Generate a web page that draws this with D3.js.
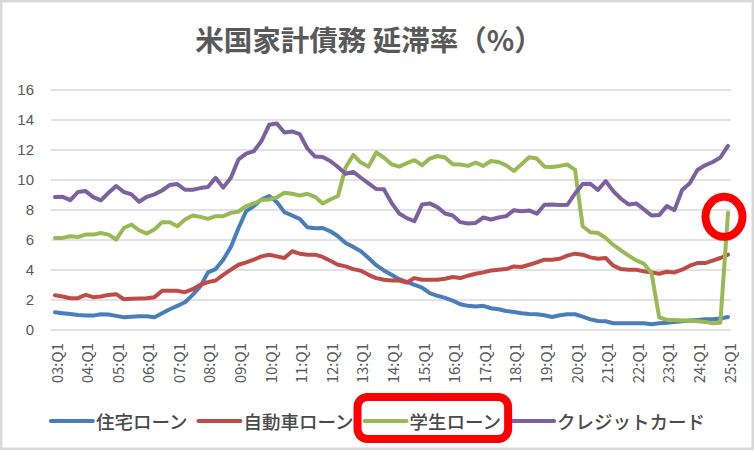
<!DOCTYPE html>
<html>
<head>
<meta charset="utf-8">
<script src="https://cdn.jsdelivr.net/npm/d3@7"></script>
<style>
  body { margin: 0; background: #fff; }
  svg { display: block; font-family: "Noto Sans CJK JP", "Noto Sans", sans-serif; }
  .grid line { stroke: #d9d9d9; stroke-width: 1.5; }
  .tick-label { fill: #595959; font-size: 15px; }
  .legend-label { fill: #4a4a4a; font-size: 18.5px; font-weight: 500; }
</style>
</head>
<body>
<svg id="chart"></svg>
<script>
// tick labels shown on the x axis (every 4th quarter)
const yearLabels = ["03:Q1","04:Q1","05:Q1","06:Q1","07:Q1","08:Q1","09:Q1","10:Q1","11:Q1","12:Q1","13:Q1",
    "14:Q1","15:Q1","16:Q1","17:Q1","18:Q1","19:Q1","20:Q1","21:Q1","22:Q1","23:Q1","24:Q1","25:Q1"];
const yTicks = [0, 2, 4, 6, 8, 10, 12, 14, 16];

const seriesNames = ["住宅ローン", "自動車ローン", "学生ローン", "クレジットカード"];
const seriesColors = ["#4a7ebb", "#be4b48", "#98b954", "#7d60a0"];

// 03:Q1 .. 25:Q1, % of balance 90+ days delinquent
const mortgage = [1.18,1.12,1.07,1.0,0.96,0.96,1.05,1.03,0.94,0.85,0.89,0.92,0.92,0.85,1.12,1.38,1.61,1.85,2.34,2.9,
    3.84,4.06,4.69,5.54,6.8,7.92,8.26,8.7,8.93,8.53,7.86,7.63,7.41,6.85,6.79,6.8,6.58,6.25,5.8,5.54,
    5.25,4.8,4.32,3.97,3.68,3.39,3.21,3.01,2.83,2.46,2.28,2.14,1.96,1.72,1.61,1.56,1.61,1.45,1.38,1.27,
    1.2,1.12,1.07,1.05,0.98,0.87,0.98,1.05,1.05,0.89,0.71,0.6,0.58,0.45,0.45,0.45,0.45,0.45,0.38,0.45,
    0.49,0.54,0.58,0.63,0.67,0.71,0.71,0.76,0.87];
const auto = [2.32,2.23,2.12,2.12,2.34,2.19,2.23,2.34,2.39,2.05,2.08,2.1,2.12,2.19,2.61,2.61,2.61,2.52,2.72,3.01,
    3.19,3.3,3.68,4.02,4.35,4.51,4.69,4.91,5.02,4.91,4.8,5.25,5.09,5.02,5.02,4.87,4.62,4.35,4.24,4.06,
    3.95,3.68,3.46,3.35,3.3,3.3,3.17,3.46,3.35,3.35,3.35,3.42,3.53,3.46,3.62,3.75,3.84,3.97,4.02,4.06,
    4.24,4.2,4.35,4.51,4.69,4.69,4.75,4.96,5.09,5.02,4.84,4.75,4.8,4.29,4.06,4.02,4.02,3.91,3.84,3.75,
    3.88,3.84,4.02,4.29,4.46,4.46,4.62,4.8,5.02];
const student = [6.14,6.14,6.25,6.2,6.36,6.36,6.47,6.36,6.03,6.8,7.03,6.65,6.43,6.7,7.19,7.19,6.92,7.37,7.63,7.54,
    7.41,7.59,7.59,7.81,7.9,8.26,8.44,8.66,8.7,8.84,9.15,9.08,8.97,9.08,8.88,8.44,8.7,8.93,10.83,11.67,
    11.16,10.89,11.83,11.5,11.05,10.89,11.12,11.32,10.98,11.43,11.6,11.5,11.05,11.03,10.94,11.16,10.94,11.27,11.2,10.98,
    10.6,11.05,11.52,11.43,10.89,10.87,10.94,11.03,10.67,6.92,6.52,6.47,6.14,5.67,5.31,4.96,4.64,4.42,3.79,0.85,
    0.67,0.67,0.63,0.63,0.58,0.54,0.45,0.49,7.81];
const credit = [8.86,8.88,8.66,9.2,9.26,8.86,8.64,9.15,9.6,9.2,9.04,8.55,8.88,9.04,9.3,9.66,9.73,9.35,9.35,9.46,
    9.53,10.15,9.49,10.15,11.38,11.76,11.92,12.6,13.68,13.77,13.17,13.24,13.06,12.1,11.56,11.54,11.27,10.87,10.42,10.54,
    10.15,9.78,9.4,9.38,8.48,7.77,7.46,7.25,8.37,8.44,8.19,7.77,7.63,7.19,7.1,7.14,7.5,7.37,7.5,7.59,
    7.99,7.92,7.97,7.75,8.35,8.37,8.33,8.35,9.1,9.73,9.75,9.33,9.93,9.26,8.75,8.37,8.44,8.04,7.63,7.66,
    8.26,7.99,9.33,9.78,10.67,10.98,11.2,11.5,12.28];

const width = 755, height = 452;
const plot = { left: 51, right: 731, top: 90, bottom: 330 };

// one category per quarter
const quarters = [];
yearLabels.forEach((lab, k) => {
    const yy = lab.slice(0, 2);
    for (let q = 1; q <= 4; q++) {
        if (k === yearLabels.length - 1 && q > 1) break;
        quarters.push(`${yy}:Q${q}`);
    }
});

const allSeries = [mortgage, auto, student, credit].map((vals, i) => ({
    name: seriesNames[i], color: seriesColors[i],
    values: vals.map((v, j) => ({ q: quarters[j], v: v }))
}));

const svg = d3.select('#chart').attr('width', width).attr('height', height);

svg.append('rect')
    .attr('x', 1.25).attr('y', 1.25)
    .attr('width', width - 3.5).attr('height', height - 4.5)
    .attr('fill', '#fff').attr('stroke', '#d9d9d9').attr('stroke-width', 2.5);

svg.append('text')
    .attr('x', 369).attr('y', 51)
    .attr('text-anchor', 'middle')
    .attr('fill', '#595959')
    .attr('font-size', 28.5)
    .attr('font-weight', 'bold')
    .text('米国家計債務 延滞率（%）');

const xScale = d3.scalePoint().domain(quarters).range([55, 728]);
const yScale = d3.scaleLinear().domain([0, 16]).range([plot.bottom, plot.top]);

// horizontal gridlines
svg.append('g').attr('class', 'grid')
    .selectAll('line').data(yTicks).join('line')
    .attr('x1', plot.left).attr('x2', plot.right)
    .attr('y1', d => yScale(d)).attr('y2', d => yScale(d));

// y tick labels
const yAxis = d3.axisLeft(yScale).tickValues(yTicks).tickSize(0).tickPadding(0);
const yAxisG = svg.append('g').attr('transform', 'translate(34,0)').call(yAxis);
yAxisG.select('.domain').remove();
yAxisG.selectAll('text').attr('class', 'tick-label').attr('fill', null).style('font-family', null).attr('font-size', null);

// x tick labels, rotated
const xAxisG = svg.append('g');
xAxisG.selectAll('text').data(yearLabels).join('text')
    .attr('class', 'tick-label')
    .attr('transform', d => `translate(${xScale(d) + 1},343) rotate(-90)`)
    .attr('text-anchor', 'end')
    .attr('dominant-baseline', 'central')
    .text(d => d);

const line = d3.line().x(d => xScale(d.q)).y(d => yScale(d.v));

svg.append('g').selectAll('path').data(allSeries).join('path')
    .attr('fill', 'none')
    .attr('stroke', d => d.color)
    .attr('stroke-width', 4)
    .attr('stroke-linejoin', 'round')
    .attr('stroke-linecap', 'round')
    .attr('d', d => line(d.values));

// legend
const legend = svg.append('g');
const items = legend.selectAll('g').data(allSeries).join('g');
items.append('line')
    .attr('x1', 0).attr('x2', 42).attr('y1', 0).attr('y2', 0)
    .attr('stroke', d => d.color).attr('stroke-width', 4).attr('stroke-linecap', 'round');
items.append('text')
    .attr('class', 'legend-label')
    .attr('x', 45).attr('y', 0)
    .attr('dominant-baseline', 'central')
    .text(d => d.name);

let cursor = 0;
const offsets = [];
items.each(function () {
    offsets.push(cursor);
    const w = d3.select(this).select('text').node().getComputedTextLength();
    cursor += 45 + w + 11;
});
const totalW = cursor - 11;
const legendX = 378 - totalW / 2;
items.attr('transform', (d, i) => `translate(${legendX + offsets[i]},421)`);

// red highlight box around 学生ローン
const stuIdx = 2;
const stuW = items.filter((d, i) => i === stuIdx).select('text').node().getComputedTextLength();
const boxX = legendX + offsets[stuIdx] - 7;
svg.append('rect')
    .attr('x', boxX).attr('y', 397)
    .attr('width', 45 + stuW + 14).attr('height', 42)
    .attr('rx', 10)
    .attr('fill', 'none').attr('stroke', '#ff0000').attr('stroke-width', 8);

// red circle at the latest student-loan value
const last = student.length - 1;
svg.append('ellipse')
    .attr('cx', xScale(quarters[last]) - 4)
    .attr('cy', yScale(student[last]) + 4)
    .attr('rx', 18.5).attr('ry', 20)
    .attr('fill', 'none').attr('stroke', '#ff0000').attr('stroke-width', 8);
</script>
</body>
</html>
